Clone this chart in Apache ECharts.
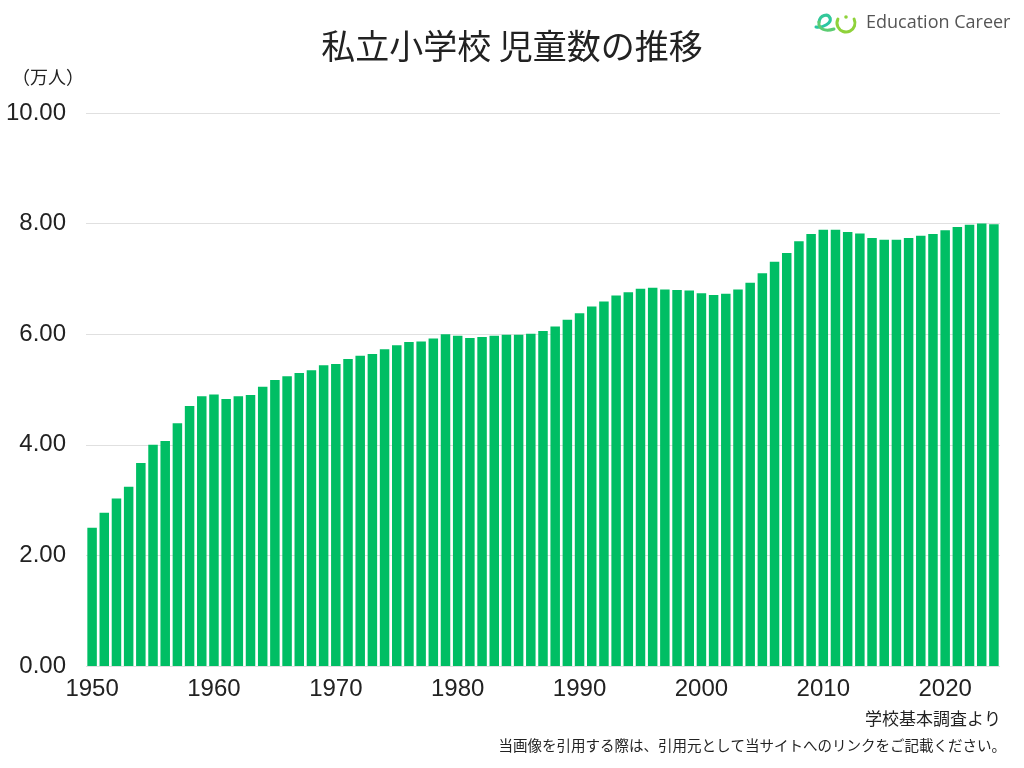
<!DOCTYPE html>
<html>
<head>
<meta charset="utf-8">
<script src="https://cdn.jsdelivr.net/npm/echarts@6/dist/echarts.min.js"></script>
<style>
  html, body { margin: 0; padding: 0; background: #fff; }
  #bar { width: 1024px; height: 768px; }
</style>
</head>
<body>
<div id="bar"></div>
<script>
// 私立小学校 児童数 (万人)
var years = [];
for (var y = 1950; y <= 2024; y++) years.push(String(y));

var students = [
  2.50, 2.77, 3.03, 3.24, 3.67, 4.00, 4.07, 4.39, 4.70, 4.88,
  4.91, 4.83, 4.88, 4.90, 5.05, 5.17, 5.24, 5.30, 5.35, 5.44,
  5.46, 5.55, 5.61, 5.64, 5.73, 5.80, 5.86, 5.87, 5.92, 6.00,
  5.97, 5.93, 5.95, 5.97, 5.99, 5.99, 6.01, 6.06, 6.14, 6.26,
  6.38, 6.50, 6.59, 6.70, 6.76, 6.82, 6.84, 6.81, 6.80, 6.79,
  6.74, 6.71, 6.73, 6.81, 6.93, 7.10, 7.31, 7.47, 7.68, 7.81,
  7.89, 7.89, 7.85, 7.82, 7.74, 7.71, 7.71, 7.74, 7.78, 7.81,
  7.88, 7.94, 7.98, 8.00, 7.99
];

var font = '"Noto Sans CJK JP", "Noto Sans", sans-serif';
var numFont = '"Liberation Sans", Arial, sans-serif';

var myChart = echarts.init(document.getElementById('bar'));

// logo stroke helper
function logoCurve(p, color) {
    return {
        type: 'bezierCurve',
        shape: { x1: p[0], y1: p[1], cpx1: p[2], cpy1: p[3], cpx2: p[4], cpy2: p[5], x2: p[6], y2: p[7] },
        style: { stroke: color, lineWidth: 3, fill: null, lineCap: 'round' }
    };
}

var barOption = {
    backgroundColor: '#fff',
    animation: false,
    textStyle: { fontFamily: font },
    title: {
        text: '私立小学校 児童数の推移',
        left: 'center',
        top: 24,
        textStyle: { fontFamily: font, fontSize: 34, fontWeight: 'normal', color: '#222' }
    },
    grid: {
        left: 86,
        right: 24,
        top: 113,
        bottom: 102
    },
    xAxis: {
        type: 'category',
        data: years,
        axisLine: { show: false },
        axisTick: { show: false },
        axisLabel: {
            interval: 9,
            color: '#222',
            fontSize: 24,
            margin: 11,
            fontFamily: numFont
        }
    },
    yAxis: {
        type: 'value',
        min: 0,
        max: 10,
        interval: 2,
        axisLine: { show: false },
        axisTick: { show: false },
        splitLine: { lineStyle: { color: '#e0e0e0', width: 1 } },
        axisLabel: {
            formatter: function (v) { return v.toFixed(2); },
            color: '#222',
            fontSize: 24,
            margin: 20,
            fontFamily: numFont
        }
    },
    graphic: [
        {
            type: 'text', left: 12, top: 68,
            style: { text: '（万人）', fontSize: 18, fill: '#222', fontFamily: font }
        },
        {
            type: 'text', right: 23, top: 710,
            style: { text: '学校基本調査より', fontSize: 17, fill: '#222', fontFamily: font }
        },
        {
            type: 'text', right: 18, top: 738,
            style: { text: '当画像を引用する際は、引用元として当サイトへのリンクをご記載ください。', fontSize: 14.5, fill: '#222', fontFamily: font }
        },
        // logo
        logoCurve([816, 27, 823, 28, 832, 23, 830, 18], '#2ac6a2'),
        logoCurve([830, 18, 828, 13, 820, 15, 819, 22], '#33c89a'),
        logoCurve([819, 22, 818, 29, 825, 32, 834, 29], '#5ccc72'),
        {
            type: 'arc', shape: { cx: 846, cy: 23, r: 9, startAngle: -0.45, endAngle: Math.PI + 0.45 },
            style: { stroke: '#8fd23a', lineWidth: 3, fill: null, lineCap: 'round' }
        },
        {
            type: 'circle', shape: { cx: 846, cy: 17, r: 1.8 },
            style: { fill: '#8fd23a' }
        },
        {
            type: 'text', left: 866, top: 14,
            style: { text: 'Education Career', fontSize: 18, fill: '#555', fontFamily: '"Open Sans", sans-serif' }
        }
    ],
    series: [
        {
            name: '児童数',
            type: 'bar',
            data: students,
            barCategoryGap: '22%',
            itemStyle: { color: '#00be64' }
        }
    ]
};
myChart.setOption(barOption);
</script>
</body>
</html>
